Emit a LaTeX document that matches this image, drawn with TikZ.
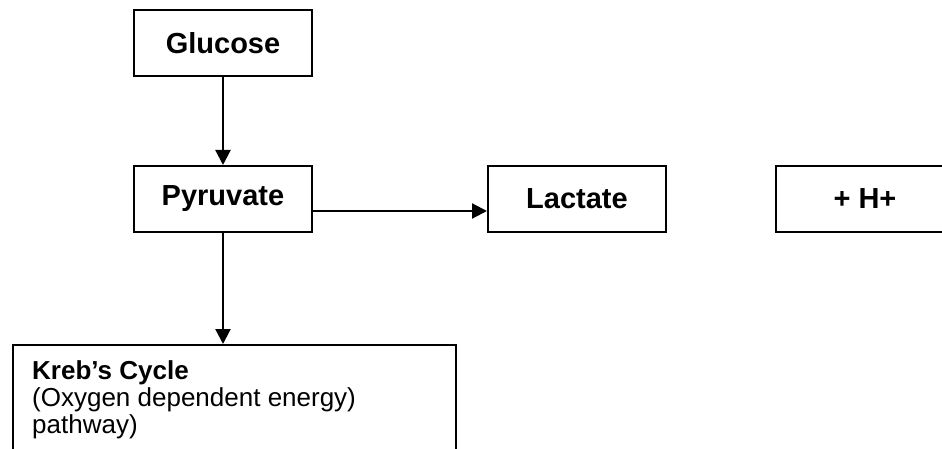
\documentclass[tikz,border=0pt]{standalone}
\usepackage{fontspec}
\setmainfont{Liberation Sans}
\usetikzlibrary{arrows.meta}
\begin{document}
\begin{tikzpicture}[x=1pt,y=1pt,
  box/.style={draw,line width=2pt,minimum width=178pt,minimum height=66pt,inner sep=0pt,
    font=\fontsize{29}{33}\selectfont\bfseries},
  conn/.style={line width=2.2pt,-{Triangle[length=15pt,width=15pt]}}]
\useasboundingbox (0,0) rectangle (942,448);
\clip (0,0) rectangle (942,448);
\node[box] (glu) at (223,404.5) {Glucose};
\node[box] (pyr) at (223,249) {Pyruvate};
\node[box] (lac) at (577,249) {Lactate};
\node[box] (hp) at (865,249) {+ H+};
\node[draw,line width=2pt,minimum width=443pt,minimum height=120pt,anchor=north west,inner sep=0pt] (kreb) at (12,104) {};
\node[anchor=north west,align=left,inner sep=0pt,font=\fontsize{26}{27}\selectfont] (kt) at (32,88)
  {\textbf{Kreb’s Cycle}\\(Oxygen dependent energy)\\pathway)};
\draw[conn] (glu) -- (pyr);
\draw[conn] ([yshift=-12pt]pyr.east) -- ([yshift=-12pt]lac.west);
\draw[conn] (pyr.south) -- (pyr.south |- kreb.north);
\end{tikzpicture}
\end{document}
